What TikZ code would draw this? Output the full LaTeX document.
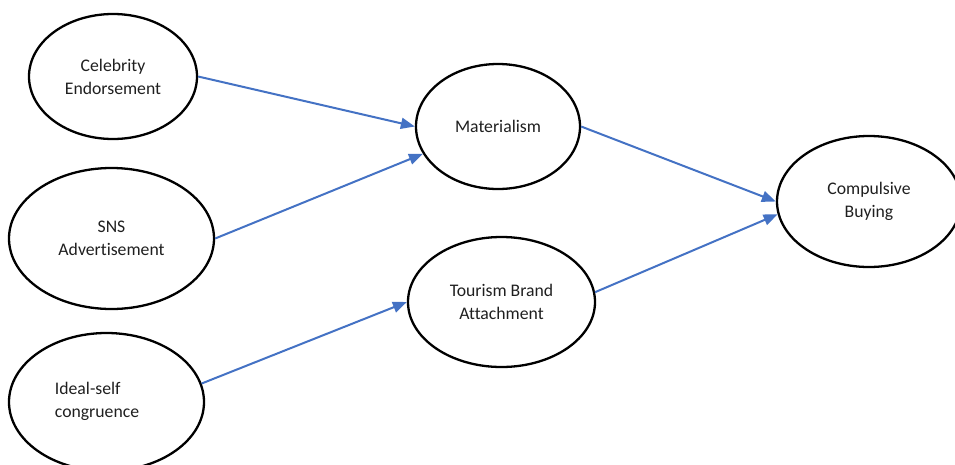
\documentclass[tikz,border=0pt]{standalone}
\usepackage{fontspec}
\setmainfont[Ligatures=NoCommon]{Carlito}
\usetikzlibrary{shapes.geometric,arrows.meta}
\definecolor{linkblue}{HTML}{4472C4}
\begin{document}
\begin{tikzpicture}[x=1pt,y=-1pt,
  construct/.style={ellipse,draw=black,line width=2.3pt,inner sep=0pt,
    font=\fontsize{17.7}{23}\selectfont,text=black!88,align=center},
  caption/.style={font=\fontsize{17.7}{23}\selectfont,text=black!88,inner sep=0pt},
  path/.style={draw=linkblue,line width=2pt,
    -{Triangle[length=14pt,width=11pt]}}]
\useasboundingbox (0,0) rectangle (955,464);

% antecedents
\node[construct,minimum width=168pt,minimum height=125pt] (cel) at (113,76.5) {Celebrity\\Endorsement};
\node[construct,minimum width=205pt,minimum height=141pt] (sns) at (111.5,238.5) {SNS\\Advertisement};
\node[construct,minimum width=195pt,minimum height=138pt] (ide) at (106.5,402) {};
\node[caption,align=left] (ideT) at (97,401.5) {Ideal-self\\congruence};

% mediators
\node[construct,minimum width=164pt,minimum height=125pt] (mat) at (498,126.5) {Materialism};
\node[construct,minimum width=187pt,minimum height=130pt] (tba) at (501.5,302) {Tourism Brand\\Attachment};

% outcome
\node[construct,minimum width=184pt,minimum height=131pt] (cmp) at (869,201.5) {Compulsive\\Buying};

% hypothesised paths
\draw[path] (cel.east) -- (mat.west);
\draw[path] (sns.east) -- (mat.200);
\draw[path] (ide.11) -- (tba.west);
\draw[path] (mat.east) -- (cmp.west);
\draw[path] (tba.6) -- (cmp.188);
\end{tikzpicture}
\end{document}
